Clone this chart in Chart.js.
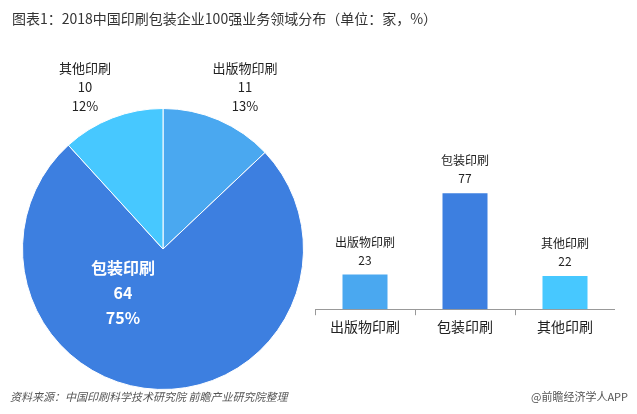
<!DOCTYPE html><html><head><meta charset="utf-8">
<script src="https://cdn.jsdelivr.net/npm/chart.js@4"></script>
<style>body{margin:0;background:#fff;width:637px;height:414px;overflow:hidden;position:relative;font-family:"Noto Sans CJK SC"}
#c1{position:absolute;left:0;top:0}#w2{position:absolute;left:315px;top:148px;width:300px;height:190px}</style></head><body>
<canvas id="c1" width="637" height="414"></canvas><div id="w2"><canvas id="c2"></canvas></div>
<script>
const pieCats=['出版物印刷','包装印刷','其他印刷'];
const pieVals=[11,64,10];
const piePct=['13%','75%','12%'];
const barCats=['出版物印刷','包装印刷','其他印刷'];
const barVals=[23,77,22];
const colors=['#4aa8f0','#3d7fe0','#47c8ff'];
const F='"Noto Sans CJK SC"';
const pieText={id:'pt',afterDraw(ch){const c=ch.ctx;c.save();c.textAlign='left';c.textBaseline='middle';
c.fillStyle='#333';c.font='14px '+F;c.fillText('图表1：2018中国印刷包装企业100强业务领域分布（单位：家，%）',12,19);
c.font='italic 11px '+F;c.fillStyle='#555';c.fillText('资料来源：中国印刷科学技术研究院 前瞻产业研究院整理',10,397);
c.textAlign='right';c.font='11px '+F;c.fillText('@前瞻经济学人APP',628,397);
c.textAlign='center';c.fillStyle='#222';c.font='13px '+F;
const m=ch.getDatasetMeta(0).data;const cx=m[0].x,cy=m[0].y;
[[0,245],[2,85]].forEach(([i,x])=>{c.fillText(pieCats[i],x,68);c.fillText(String(pieVals[i]),x,87);c.fillText(piePct[i],x,106);});
c.fillStyle='#fff';c.font='bold 16px '+F;c.fillText(pieCats[1],cx-40,268);c.fillText(String(pieVals[1]),cx-40,293);c.fillText(piePct[1],cx-40,318);
c.restore();}};
new Chart(document.getElementById('c1'),{type:'pie',data:{labels:pieCats,datasets:[{data:pieVals,backgroundColor:colors,borderColor:'#fff',borderWidth:1}]},
options:{responsive:false,animation:false,layout:{padding:{left:22,top:108,right:333,bottom:24}},plugins:{legend:{display:false},tooltip:{enabled:false}}},plugins:[pieText]});
const barText={id:'bt',afterDatasetsDraw(ch){const c=ch.ctx;c.save();c.textAlign='center';c.fillStyle='#222';c.font='12px '+F;
ch.getDatasetMeta(0).data.forEach((b,i)=>{c.fillText(barCats[i],b.x,b.y-28);c.fillText(String(barVals[i]),b.x,b.y-10);});c.restore();}};
new Chart(document.getElementById('c2'),{type:'bar',data:{labels:barCats,datasets:[{data:barVals,backgroundColor:colors,barPercentage:0.45,categoryPercentage:1}]},
options:{responsive:true,maintainAspectRatio:false,animation:false,layout:{padding:{top:0}},
scales:{y:{display:false,min:0,max:107},x:{grid:{display:true,drawOnChartArea:false,offset:true,color:'#999',tickLength:6},border:{color:'#999'},ticks:{color:'#222',font:{size:14,family:F}}}},
plugins:{legend:{display:false},tooltip:{enabled:false}}},plugins:[barText]});
</script></body></html>
